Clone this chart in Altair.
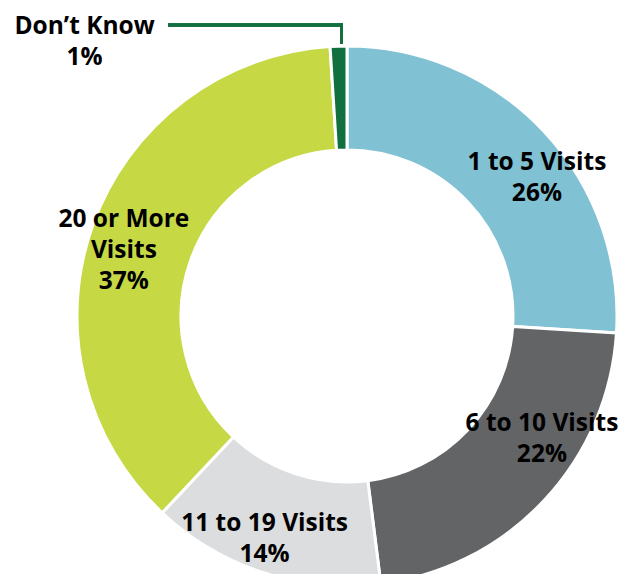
import altair as alt
import pandas as pd

# Data
categories = ["1 to 5 Visits", "6 to 10 Visits", "11 to 19 Visits", "20 or More Visits", "Don\u2019t Know"]
labels = ["1 to 5 Visits\n26%", "6 to 10 Visits\n22%", "11 to 19 Visits\n14%", "20 or More\nVisits\n37%", "Don\u2019t Know\n1%"]
values = [26, 22, 14, 37, 1]
order = [1, 2, 3, 4, 5]
colors = ["#80C1D3", "#636466", "#DCDDDE", "#C6D843", "#127040"]

df = pd.DataFrame({"category": categories, "label": labels, "value": values, "order": order})

CX, CY = 339, 308  # donut centre inside the view

base = alt.Chart(df).encode(
    theta=alt.Theta("value:Q", stack=True),
    order=alt.Order("order:Q"),
    x=alt.value(CX),
    y=alt.value(CY),
)

arcs = base.mark_arc(outerRadius=270, innerRadius=166, stroke="white", strokeWidth=3).encode(
    color=alt.Color("category:N", scale=alt.Scale(domain=categories, range=colors), legend=None)
)

# per-label radius and nudges (dx, dy)
label_style = {
    "1 to 5 Visits": (218, 31, -3.5),
    "6 to 10 Visits": (218, 36, -41.5),
    "11 to 19 Visits": (218, -15, 0.5),
    "20 or More Visits": (218, -18, -22),
    "Don\u2019t Know": (300, -253, 10.5),
}

text_layers = []
for cat, (r, dx, dy) in label_style.items():
    t = base.mark_text(
        radius=r, dx=dx, dy=dy, font="Open Sans", fontWeight="bold", fontSize=24.5,
        lineBreak="\n", lineHeight=31, align="center", baseline="middle", color="black",
    ).encode(
        text=alt.condition(alt.datum.category == cat, "label:N", alt.value(""))
    )
    text_layers.append(t)

leader_h = alt.Chart(df).mark_rule(color="#127040", strokeWidth=3).encode(
    x=alt.value(160), x2=alt.value(335), y=alt.value(17)
)
leader_v = alt.Chart(df).mark_rule(color="#127040", strokeWidth=3).encode(
    x=alt.value(333.5), y=alt.value(15.5), y2=alt.value(36)
)

chart = alt.layer(arcs, *text_layers, leader_h, leader_v).properties(
    width=613, height=566, autosize=alt.AutoSizeParams(type="none"), padding=0
).configure_view(stroke=None)

chart.save("out.html", embed_options={"renderer": "svg", "actions": False})
